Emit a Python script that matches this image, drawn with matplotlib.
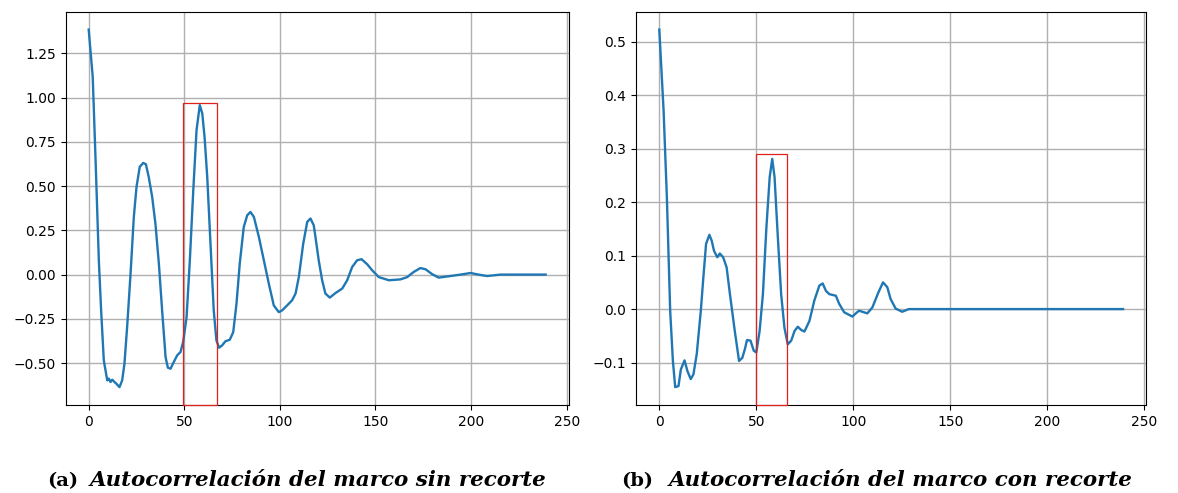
import numpy as np
import matplotlib.pyplot as plt
from matplotlib.patches import Rectangle

# autocorrelation of the frame without cropping
lagA = [0, 2.1, 3.6, 5.3, 6.5, 7.9, 9.7, 10.5, 11.4, 12.3, 13.5, 14.5, 16.1, 17.5, 18.7,
        20.1, 21.9, 23.6, 25.0, 26.7, 28.5, 29.9, 31.4, 33.2, 34.9, 36.7, 38.4, 40.2,
        41.4, 42.8, 44.5, 46.3, 48.0, 49.4, 51.2, 52.9, 54.7, 56.4, 58.1, 59.4, 60.6,
        62.0, 63.7, 65.4, 66.8, 68.2, 69.8, 71.5, 73.8, 75.6, 77.3, 79.0, 81.1, 82.9,
        84.6, 86.4, 89.0, 91.6, 94.2, 96.8, 99.4, 101.2, 103.8, 106.4, 108.2, 109.9,
        112.2, 114.3, 116.0, 117.7, 118.6, 120.3, 122.1, 123.8, 126.1, 129.1, 132.6,
        135.2, 137.8, 140.4, 142.7, 145.7, 148.3, 151.7, 157.0, 163.1, 166.6, 170.0,
        173.5, 176.2, 179.7, 183.1, 189.2, 194.5, 199.7, 204.9, 208.4, 215.4, 239]
acA = [1.385, 1.118, 0.646, 0.081, -0.202, -0.485, -0.598, -0.588, -0.607, -0.594,
       -0.607, -0.617, -0.636, -0.598, -0.504, -0.296, 0.006, 0.326, 0.495, 0.609,
       0.631, 0.624, 0.552, 0.439, 0.288, 0.062, -0.202, -0.466, -0.526, -0.532,
       -0.494, -0.456, -0.438, -0.381, -0.240, 0.081, 0.477, 0.816, 0.958, 0.911,
       0.778, 0.552, 0.175, -0.202, -0.372, -0.413, -0.400, -0.377, -0.368, -0.325,
       -0.164, 0.062, 0.269, 0.335, 0.354, 0.326, 0.213, 0.081, -0.051, -0.174,
       -0.212, -0.202, -0.174, -0.145, -0.107, -0.014, 0.175, 0.298, 0.317, 0.279,
       0.213, 0.081, -0.032, -0.107, -0.130, -0.104, -0.079, -0.032, 0.043, 0.081,
       0.087, 0.058, 0.024, -0.014, -0.032, -0.027, -0.014, 0.015, 0.037, 0.030,
       0.002, -0.017, -0.008, 0.0, 0.009, -0.002, -0.008, 0.0, 0.0]

# autocorrelation of the cropped frame
lagB = [0, 2.2, 3.9, 5.6, 7.0, 8.2, 9.9, 11.1, 13.0, 14.5, 16.2, 17.6, 19.3, 21.4, 22.7,
        24.1, 25.8, 27.0, 28.2, 29.9, 31.2, 32.9, 34.7, 36.4, 38.9, 41.1, 42.8, 44.1,
        45.2, 47.0, 48.7, 50.0, 51.7, 53.4, 55.2, 56.9, 58.2, 59.4, 61.1, 62.8, 64.5,
        66.2, 68.0, 69.7, 71.4, 73.1, 74.8, 77.4, 79.9, 82.5, 84.2, 85.9, 87.6, 91.0,
        92.7, 95.3, 99.5, 101.3, 102.9, 107.2, 109.8, 112.9, 115.3, 117.5, 119.2,
        121.8, 125.2, 128.6, 239]
acB = [0.523, 0.372, 0.209, -0.003, -0.097, -0.146, -0.144, -0.113, -0.096, -0.116,
       -0.131, -0.122, -0.084, -0.003, 0.059, 0.122, 0.139, 0.128, 0.109, 0.097,
       0.104, 0.097, 0.078, 0.028, -0.041, -0.097, -0.091, -0.075, -0.058, -0.059,
       -0.078, -0.081, -0.041, 0.028, 0.153, 0.247, 0.281, 0.247, 0.134, 0.028,
       -0.035, -0.066, -0.059, -0.041, -0.033, -0.039, -0.042, -0.022, 0.016, 0.044,
       0.048, 0.034, 0.028, 0.025, 0.010, -0.006, -0.014, -0.008, -0.003, -0.008,
       0.003, 0.031, 0.050, 0.041, 0.019, 0.001, -0.005, 0.0, 0.0]

# highlighted window (x0, x1, top)
boxA = (49.5, 67.0, 0.968)
boxB = (50.0, 66.0, 0.29)

capA = ('(a)', 'Autocorrelación del marco sin recorte')
capB = ('(b)', 'Autocorrelación del marco con recorte')

fig = plt.figure(figsize=(11.78, 4.93), dpi=100)
axA = fig.add_axes([0.0559, 0.1785, 0.4267, 0.7978])
axB = fig.add_axes([0.540, 0.1785, 0.433, 0.7978])

for ax, x, y, box in [(axA, lagA, acA, boxA), (axB, lagB, acB, boxB)]:
    ax.plot(x, y, color='#1f77b4', lw=1.7)
    lo, hi = min(y), max(y)
    pad = 0.05*(hi-lo)
    ax.set_ylim(lo-pad, hi+pad)
    ax.set_xlim(-11.95, 250.95)
    ax.grid(True, color='#b0b0b0', lw=1.0)
    ax.set_axisbelow(True)
    ax.add_patch(Rectangle((box[0], lo-pad), box[1]-box[0], box[2]-(lo-pad),
                           fill=False, edgecolor='#e0201c', lw=0.9, zorder=3, clip_on=False))
    ax.set_xticks([0, 50, 100, 150, 200, 250])
    ax.tick_params(labelsize=10)

yb = 0.0142
for (lab, txt), x0, x1 in [(capA, 0.0396, 0.0758), (capB, 0.527, 0.5673)]:
    fig.text(x0, yb, lab, fontsize=14, family='DejaVu Serif', weight='bold', va='baseline')
    fig.text(x1, yb, txt, fontsize=15.4, family='DejaVu Serif', weight='bold',
             style='italic', va='baseline')

fig.savefig('out.png', dpi=100)
